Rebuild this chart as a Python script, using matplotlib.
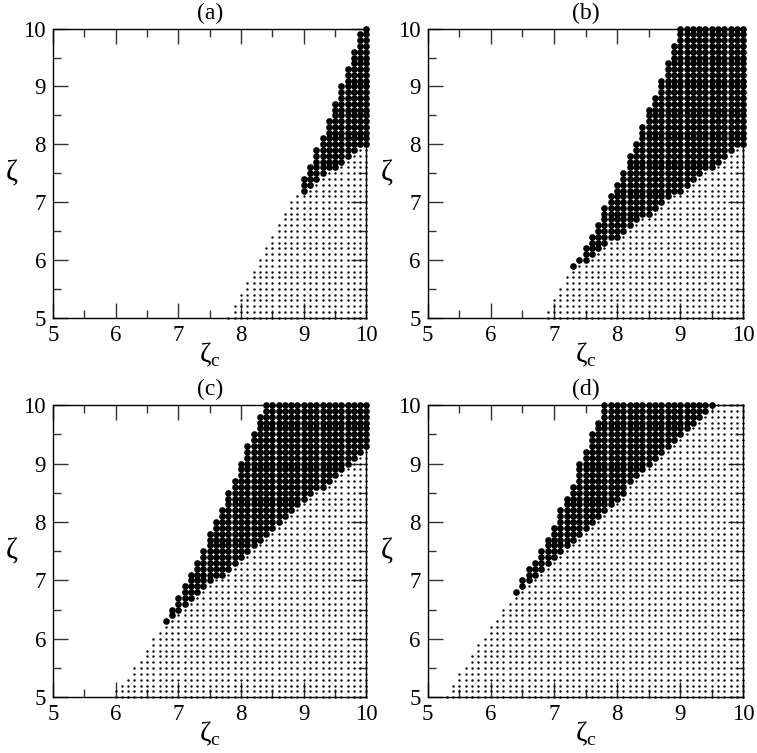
import numpy as np
import matplotlib
matplotlib.use('Agg')
import matplotlib.pyplot as plt
from matplotlib.ticker import MultipleLocator

plt.rcParams['font.family'] = ['Liberation Serif', 'DejaVu Serif']
plt.rcParams['mathtext.fontset'] = 'custom'
plt.rcParams['mathtext.rm'] = 'Liberation Serif'

# grid columns of zeta_c (step 0.1), top zeta reached in each column,
# and zeta where the big dots start (None = only small dots)
zc_a = [7.8, 7.9, 8.0, 8.1, 8.2, 8.3, 8.4, 8.5, 8.6, 8.7, 8.8, 8.9,
        9.0, 9.1, 9.2, 9.3, 9.4, 9.5, 9.6, 9.7, 9.8, 9.9, 10.0]
top_a = [5.0, 5.2, 5.4, 5.6, 5.8, 6.0, 6.2, 6.4, 6.6, 6.8, 7.0, 7.1,
         7.4, 7.6, 7.9, 8.1, 8.4, 8.7, 9.0, 9.3, 9.6, 9.9, 10.0]
big_a = [None] * 12 + [7.2, 7.3, 7.4, 7.5, 7.6, 7.6, 7.7, 7.8, 7.9, 8.0, 8.0]

zc_b = [6.9, 7.0, 7.1, 7.2, 7.3, 7.4, 7.5, 7.6, 7.7, 7.8, 7.9, 8.0, 8.1,
        8.2, 8.3, 8.4, 8.5, 8.6, 8.7, 8.8, 8.9, 9.0, 9.1, 9.2, 9.3, 9.4,
        9.5, 9.6, 9.7, 9.8, 9.9, 10.0]
top_b = [5.1, 5.3, 5.5, 5.7, 5.9, 6.0, 6.2, 6.4, 6.6, 6.9, 7.1, 7.3, 7.5,
         7.8, 8.0, 8.3, 8.6, 8.8, 9.1, 9.4, 9.7] + [10.0] * 11
big_b = [None] * 4 + [5.9, 6.0, 6.0, 6.1, 6.2, 6.3, 6.4, 6.4, 6.5, 6.6,
                      6.7, 6.8, 6.8, 6.9, 7.0, 7.1, 7.2, 7.2, 7.3, 7.4,
                      7.5, 7.6, 7.6, 7.7, 7.8, 7.9, 8.0, 8.0]

zc_c = [6.0, 6.1, 6.2, 6.3, 6.4, 6.5, 6.6, 6.7, 6.8, 6.9, 7.0, 7.1, 7.2,
        7.3, 7.4, 7.5, 7.6, 7.7, 7.8, 7.9, 8.0, 8.1, 8.2, 8.3, 8.4, 8.5,
        8.6, 8.7, 8.8, 8.9, 9.0, 9.1, 9.2, 9.3, 9.4, 9.5, 9.6, 9.7, 9.8,
        9.9, 10.0]
top_c = [5.1, 5.2, 5.3, 5.5, 5.6, 5.8, 6.0, 6.1, 6.3, 6.5, 6.7, 6.9, 7.1,
         7.3, 7.5, 7.8, 8.0, 8.2, 8.5, 8.7, 9.0, 9.3, 9.5, 9.8] + [10.0] * 17
big_c = [None] * 8 + [6.3, 6.4, 6.5, 6.6, 6.7, 6.8, 6.9, 7.0, 7.1, 7.1,
                      7.2, 7.3, 7.4, 7.5, 7.6, 7.7, 7.8, 7.9, 8.0, 8.1,
                      8.2, 8.3, 8.4, 8.5, 8.6, 8.6, 8.7, 8.8, 8.9, 9.0,
                      9.1, 9.2, 9.3]

zc_d = [5.3, 5.4, 5.5, 5.6, 5.7, 5.8, 5.9, 6.0, 6.1, 6.2, 6.3, 6.4, 6.5,
        6.6, 6.7, 6.8, 6.9, 7.0, 7.1, 7.2, 7.3, 7.4, 7.5, 7.6, 7.7, 7.8,
        7.9, 8.0, 8.1, 8.2, 8.3, 8.4, 8.5, 8.6, 8.7, 8.8, 8.9, 9.0, 9.1,
        9.2, 9.3, 9.4, 9.5, 9.6, 9.7, 9.8, 9.9, 10.0]
top_d = [5.0, 5.2, 5.4, 5.5, 5.7, 5.9, 6.0, 6.2, 6.3, 6.5, 6.6, 6.8, 7.0,
         7.2, 7.3, 7.5, 7.7, 7.9, 8.2, 8.4, 8.6, 9.0, 9.2, 9.5, 9.7] + [10.0] * 23
big_d = [None] * 11 + [6.8, 6.9, 7.0, 7.1, 7.2, 7.3, 7.4, 7.5, 7.6, 7.7,
                       7.8, 7.9, 8.0, 8.1, 8.2, 8.3, 8.4, 8.5, 8.7, 8.8,
                       8.9, 9.0, 9.1, 9.2, 9.3, 9.4, 9.5, 9.6, 9.7, 9.8,
                       9.9, 10.0] + [None] * 5

panels = [('(a)', zc_a, top_a, big_a),
          ('(b)', zc_b, top_b, big_b),
          ('(c)', zc_c, top_c, big_c),
          ('(d)', zc_d, top_d, big_d)]

# axes boxes in figure fractions
boxes = [[0.070, 0.578, 0.414, 0.384],
         [0.565, 0.578, 0.417, 0.384],
         [0.070, 0.074, 0.414, 0.388],
         [0.565, 0.074, 0.417, 0.388]]

fig = plt.figure(figsize=(7.57, 7.53), dpi=100)

for (name, zc, top, big), box in zip(panels, boxes):
    ax = fig.add_axes(box)
    sx, sy, bx, by = [], [], [], []
    for x, t, b in zip(zc, top, big):
        for k in range(50, int(round(t * 10)) + 1):
            y = k / 10
            if b is not None and k >= int(round(b * 10)):
                bx.append(x)
                by.append(y)
            else:
                sx.append(x)
                sy.append(y)
    ax.scatter(sx, sy, s=3, c='black', linewidths=0, clip_on=False, zorder=3)
    ax.scatter(bx, by, s=23, c='black', linewidths=0, clip_on=False, zorder=3)

    ax.set_xlim(5, 10)
    ax.set_ylim(5, 10)
    ax.xaxis.set_major_locator(MultipleLocator(1))
    ax.yaxis.set_major_locator(MultipleLocator(1))
    ax.xaxis.set_minor_locator(MultipleLocator(0.5))
    ax.yaxis.set_minor_locator(MultipleLocator(0.5))
    ax.tick_params(which='both', direction='in', top=True, right=True,
                   color='#333333', width=1.0)
    ax.tick_params(which='major', length=11, labelsize=16.5, pad=5)
    ax.tick_params(which='minor', length=5.5)
    for sp in ax.spines.values():
        sp.set_linewidth(1.0)

    ax.set_title(name, fontsize=17, pad=7)
    ax.set_xlabel('ζ$_\\mathrm{c}$', fontsize=20, labelpad=-4)
    ax.set_ylabel('ζ', fontsize=21, rotation=0, va='center')
    ax.yaxis.set_label_coords(-0.13, 0.5)

fig.savefig('out.png', dpi=100)
